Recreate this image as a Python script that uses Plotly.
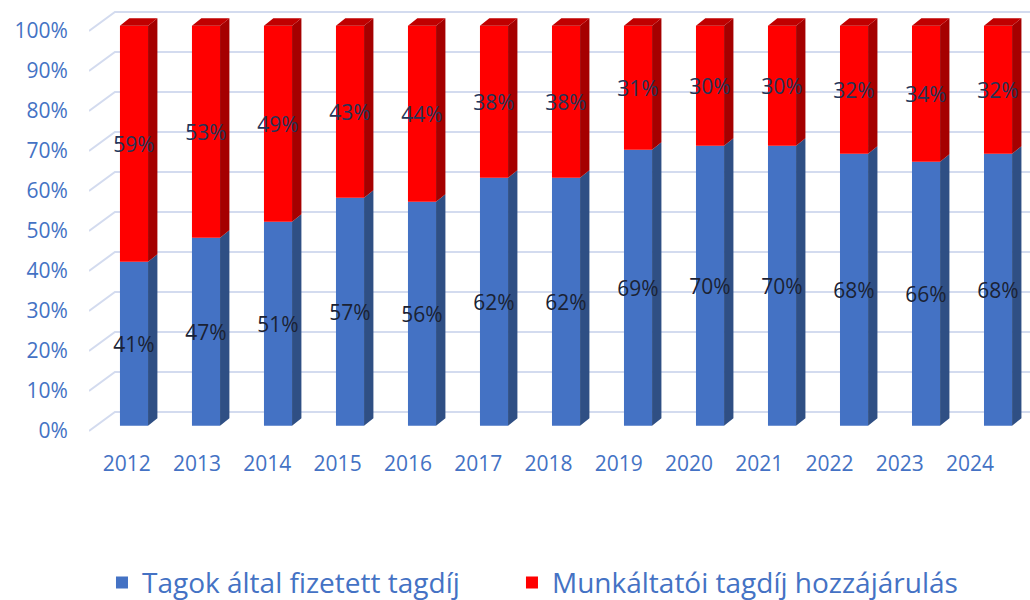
import plotly.graph_objects as go

years = ["2012", "2013", "2014", "2015", "2016", "2017", "2018",
         "2019", "2020", "2021", "2022", "2023", "2024"]
tagok = [41, 47, 51, 57, 56, 62, 62, 69, 70, 70, 68, 66, 68]
munkaltatoi = [59, 53, 49, 43, 44, 38, 38, 31, 30, 30, 32, 34, 32]
y_ticks = [0, 10, 20, 30, 40, 50, 60, 70, 80, 90, 100]

BLUE, BLUE_SIDE = "#4472C4", "#2F4F84"
RED, RED_SIDE, RED_TOP = "#FF0000", "#A50000", "#C00000"
GRID = "#D3DBEF"
FONT = "Open Sans"

# fake 3D geometry (axis units)
w = 0.39            # front face width
dx, dy = 0.13, 1.9  # bar depth
front = 1.3         # bars sit slightly behind the axis plane
wall_dx, wall_dy = 0.36, 4.75  # back wall offset for gridlines
x_min, x_max = -0.625, 12.444
label_step = 0.976  # floor labels are a bit tighter than the bars (perspective)

xs = list(range(len(years)))
red_base = [front + t for t in tagok]
blue_base = [front] * len(years)

fig = go.Figure()

# back-wall gridlines with diagonal floor lines, drawn below the bars
for v in y_ticks:
    fig.add_shape(type="path", xref="x", yref="y", layer="below",
                  path=f"M {x_min},{v} L {x_min + wall_dx},{v + wall_dy} L {x_max},{v + wall_dy}",
                  line=dict(color=GRID, width=2))


def side_faces(bases, heights):
    px, py = [], []
    for i, b, h in zip(xs, bases, heights):
        r = i + w / 2
        px += [r, r + dx, r + dx, r, r, None]
        py += [b, b + dy, b + h + dy, b + h, b, None]
    return px, py


fig.add_trace(go.Bar(x=xs, y=tagok, base=blue_base, width=w, marker=dict(color=BLUE, line=dict(width=0)),
                     name="Tagok által fizetett tagdíj", legend="legend"))
fig.add_trace(go.Bar(x=xs, y=munkaltatoi, base=red_base, width=w, marker=dict(color=RED, line=dict(width=0)),
                     name="Munkáltatói tagdíj hozzájárulás", legend="legend2"))

sx, sy = side_faces(blue_base, tagok)
fig.add_trace(go.Scatter(x=sx, y=sy, fill="toself", fillcolor=BLUE_SIDE, mode="lines",
                         line=dict(width=0), hoverinfo="skip", showlegend=False))
sx, sy = side_faces(red_base, munkaltatoi)
fig.add_trace(go.Scatter(x=sx, y=sy, fill="toself", fillcolor=RED_SIDE, mode="lines",
                         line=dict(width=0), hoverinfo="skip", showlegend=False))

# top faces
tx, ty = [], []
for i, b, h in zip(xs, red_base, munkaltatoi):
    top = b + h
    l, r = i - w / 2, i + w / 2
    tx += [l, l + dx, r + dx, r, l, None]
    ty += [top, top + dy, top + dy, top, top, None]
fig.add_trace(go.Scatter(x=tx, y=ty, fill="toself", fillcolor=RED_TOP, mode="lines",
                         line=dict(width=0), hoverinfo="skip", showlegend=False))

# data labels
fig.add_trace(go.Scatter(x=xs, y=[front - 0.8 + t / 2 for t in tagok], mode="text",
                         text=[f"{t}%" for t in tagok], textfont=dict(family=FONT, size=21, color="#1B2233"),
                         hoverinfo="skip", showlegend=False))
fig.add_trace(go.Scatter(x=xs, y=[b - 0.8 + m / 2 for b, m in zip(red_base, munkaltatoi)], mode="text",
                         text=[f"{m}%" for m in munkaltatoi], textfont=dict(family=FONT, size=21, color="#243458"),
                         hoverinfo="skip", showlegend=False))

legend_style = dict(orientation="h", xanchor="left", y=-0.333, yanchor="middle",
                    font=dict(size=28, color=BLUE), bgcolor="rgba(0,0,0,0)")

fig.update_layout(
    width=1030, height=600,
    margin=dict(l=89, r=0, t=7, b=161, autoexpand=False),
    paper_bgcolor="white", plot_bgcolor="white",
    barmode="overlay",
    font=dict(family=FONT, color=BLUE),
    showlegend=True,
    legend=dict(x=0.0138, **legend_style),
    legend2=dict(x=0.4495, **legend_style),
    xaxis=dict(range=[x_min, x_max], showgrid=False, zeroline=False, showline=False,
               tickvals=[i * label_step - 0.1 for i in xs], ticktext=years, ticks="outside", ticklen=6,
               tickcolor="rgba(0,0,0,0)", tickfont=dict(size=21, color=BLUE)),
    yaxis=dict(range=[-2, 106], showgrid=False, zeroline=False, showline=False,
               tickvals=y_ticks, ticktext=[f"{v}%" for v in y_ticks], ticks="outside", ticklen=16,
               tickcolor="rgba(0,0,0,0)", tickfont=dict(size=21, color=BLUE)),
)

fig.write_html("out.html", config={"displayModeBar": False},
               post_script="document.body.style.margin = '0';")
